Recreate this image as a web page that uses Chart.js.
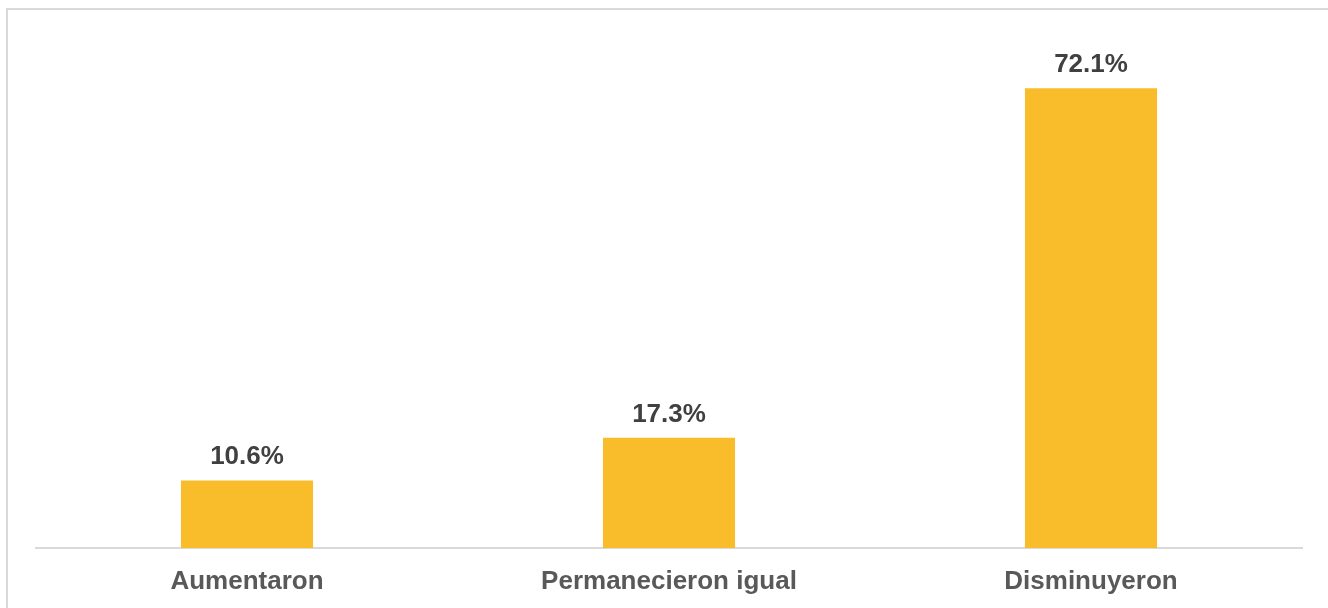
<!DOCTYPE html>
<html>
<head>
<meta charset="utf-8">
<script src="https://cdn.jsdelivr.net/npm/chart.js@4/dist/chart.umd.min.js"></script>
<style>
  html, body { margin: 0; padding: 0; background: #fff; }
  #wrap { width: 1328px; height: 608px; }
</style>
</head>
<body>
<div id="wrap"><canvas id="barChart" width="1328" height="608"></canvas></div>
<script>
const categories = ['Aumentaron', 'Permanecieron igual', 'Disminuyeron']
const percentages = [10.6, 17.3, 72.1]

// light frame around the plot, like the original export
const framePlugin = {
  id: 'frame',
  beforeDraw(chart) {
    const ctx = chart.ctx
    ctx.save()
    ctx.strokeStyle = '#d9d9d9'
    ctx.lineWidth = 2
    ctx.beginPath()
    ctx.moveTo(7, 608)
    ctx.lineTo(7, 9)
    ctx.lineTo(1328, 9)
    ctx.stroke()
    ctx.restore()
  }
}

// value labels on top of each bar
const valueLabels = {
  id: 'valueLabels',
  afterDatasetsDraw(chart) {
    const ctx = chart.ctx
    const meta = chart.getDatasetMeta(0)
    ctx.save()
    ctx.font = 'bold 26px "Liberation Sans", Arial, sans-serif'
    ctx.fillStyle = '#404040'
    ctx.textAlign = 'center'
    ctx.textBaseline = 'alphabetic'
    meta.data.forEach((bar, i) => {
      ctx.fillText(percentages[i].toFixed(1) + '%', bar.x, bar.y - 16)
    })
    ctx.restore()
  }
}

const ctx = document.getElementById('barChart').getContext('2d')

const myChart = new Chart(ctx, {
  type: 'bar',
  data: {
    labels: categories,
    datasets: [{
      data: percentages,
      backgroundColor: '#f9bc2b',
      barPercentage: 0.313,
      categoryPercentage: 1
    }]
  },
  options: {
    responsive: false,
    animation: false,
    layout: { padding: { left: 36, right: 26, top: 38, bottom: 0 } },
    plugins: {
      legend: { display: false },
      tooltip: { enabled: false }
    },
    scales: {
      x: {
        grid: { display: false, drawTicks: false },
        border: { color: '#d9d9d9', width: 2 },
        ticks: {
          color: '#595959',
          padding: 18,
          font: { family: '"Liberation Sans", Arial, sans-serif', size: 26, weight: 'bold' }
        },
        afterFit(scale) { scale.height = 60 }
      },
      y: {
        display: false,
        min: 0,
        max: 80
      }
    }
  },
  plugins: [framePlugin, valueLabels]
})
</script>
</body>
</html>
